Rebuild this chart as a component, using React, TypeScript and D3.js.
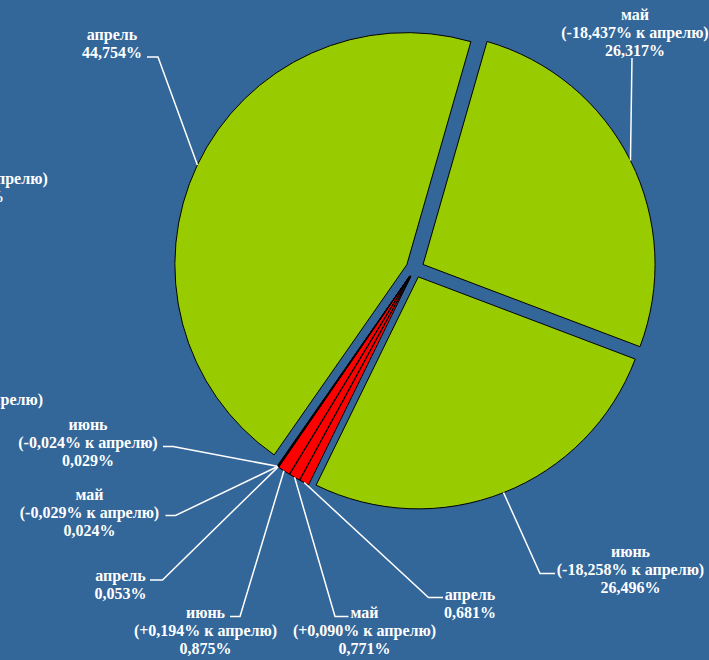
import { useRef, useEffect } from "react";
import * as d3 from "d3";

// доли по месяцам (в %), порядок как в исходной диаграмме
const months = ["апрель", "май", "июнь", "апрель", "май", "июнь", "апрель", "май", "июнь"];
const shares = [44.754, 26.317, 26.496, 0.681, 0.771, 0.875, 0.053, 0.024, 0.029];
const changes: (number | null)[] = [null, -18.437, -18.258, null, 0.09, 0.194, null, -0.029, -0.024];
const kinds = ["big", "big", "big", "mid", "mid", "mid", "tiny", "tiny", "tiny"];

// подписи соседней диаграммы, обрезанные левым краем
const cutMonths = ["май", "май"];
const cutShares = [26.317, 0.771];
const cutChanges = [-18.437, 0.09];

// раскладка подписей: центр текста, первая базовая линия, начало и излом выноски
const labelPos = [
  { cx: 112, y: 40, lx0: 147, lx1: 158, ly: 57 },
  { cx: 635, y: 19.5, lx0: 632, lx1: 632, ly: 58 },
  { cx: 630.5, y: 557, lx0: 555, lx1: 540, ly: 573.5 },
  { cx: 470, y: 599.5, lx0: 443, lx1: 428.5, ly: 597.5 },
  { cx: 364.5, y: 618, lx0: 348.5, lx1: 335, ly: 616.5 },
  { cx: 205.5, y: 618, lx0: 230, lx1: 240, ly: 616.5 },
  { cx: 120.5, y: 581, lx0: 150, lx1: 162.5, ly: 580 },
  { cx: 89.5, y: 499.5, lx0: 165.5, lx1: 175.5, ly: 515.5 },
  { cx: 88, y: 429.5, lx0: 163, lx1: 173, ly: 446.5 },
];
const cutPos = [
  { cx: -26, y: 165.5 },
  { cx: -28.5, y: 386.5 },
];

const colors: Record<string, string> = { big: "#99CC00", mid: "#FF0000", tiny: "#000000" };

const fmt = (v: number) => v.toFixed(3).replace(".", ",");
const lines = (m: string, s: number, c: number | null) =>
  c === null ? [m, fmt(s) + "%"] : [m, `(${c > 0 ? "+" : ""}${fmt(c)}% к апрелю)`, fmt(s) + "%"];

export default function App() {
  const ref = useRef<SVGSVGElement | null>(null);

  useEffect(() => {
    const svg = d3.select(ref.current);
    svg.selectAll("*").remove();

    const width = 709;
    const height = 660;
    const cx = 415;
    const cy = 268.5;
    const radius = 232;
    const explode = 9;
    const start = (214.9 * Math.PI) / 180;
    const lh = 18;

    svg.append("rect").attr("width", width).attr("height", height).attr("fill", "#336699");

    const data = shares.map((v, i) => ({ i, value: v }));
    const pie = d3
      .pie<{ i: number; value: number }>()
      .sort(null)
      .value((d) => d.value)
      .startAngle(start)
      .endAngle(start + 2 * Math.PI);
    const arc = d3
      .arc<d3.PieArcDatum<{ i: number; value: number }>>()
      .innerRadius(0)
      .outerRadius(radius);

    const arcs = pie(data);
    const mid = (d: d3.PieArcDatum<any>) => (d.startAngle + d.endAngle) / 2;
    const offset = (d: d3.PieArcDatum<any>) => [
      cx + explode * Math.sin(mid(d)),
      cy - explode * Math.cos(mid(d)),
    ];

    const g = svg.append("g");
    g.selectAll("path")
      .data(arcs)
      .enter()
      .append("path")
      .attr("transform", (d) => `translate(${offset(d)})`)
      .attr("d", arc)
      .attr("fill", (d) => colors[kinds[d.data.i]])
      .attr("stroke", "#000")
      .attr("stroke-width", 1)
      .attr("stroke-linejoin", "miter");

    // выноски
    const leaders = svg.append("g").attr("fill", "none").attr("stroke", "#fff").attr("stroke-width", 1.5);
    arcs.forEach((d) => {
      const p = labelPos[d.data.i];
      const [ox, oy] = offset(d);
      const ex = ox + radius * Math.sin(mid(d));
      const ey = oy - radius * Math.cos(mid(d));
      leaders
        .append("path")
        .attr("d", d3.line()([[p.lx0, p.ly], [p.lx1, p.ly], [ex, ey]]));
    });

    const text = svg
      .append("g")
      .attr("fill", "#fff")
      .attr("font-family", "'Liberation Serif', 'Times New Roman', serif")
      .attr("font-weight", "bold")
      .attr("font-size", 16)
      .attr("text-anchor", "middle");

    const addLabel = (ls: string[], x: number, y: number) => {
      const t = text.append("text").attr("x", x).attr("y", y);
      ls.forEach((s, k) => {
        t.append("tspan").attr("x", x).attr("y", y + k * lh).text(s);
      });
    };

    shares.forEach((s, i) => {
      const p = labelPos[i];
      addLabel(lines(months[i], s, changes[i]), p.cx, p.y);
    });
    cutShares.forEach((s, i) => {
      const p = cutPos[i];
      addLabel(lines(cutMonths[i], s, cutChanges[i]), p.cx, p.y);
    });
  }, []);

  return (
    <svg
      ref={ref}
      width={709}
      height={660}
      style={{ position: "absolute", left: 0, top: 0, display: "block" }}
    ></svg>
  );
}
